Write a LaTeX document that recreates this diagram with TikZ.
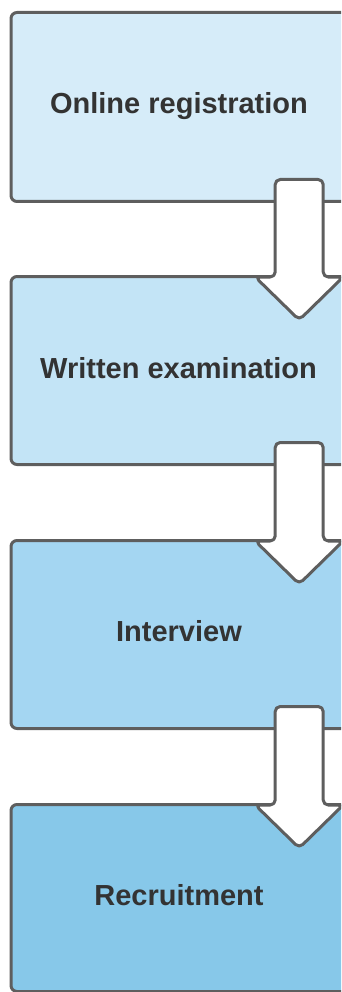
\documentclass[tikz,border=0pt]{standalone}
\usepackage{fontspec}
\setmainfont{Liberation Sans}
\usetikzlibrary{calc}
\definecolor{edgegray}{HTML}{5E5E5E}
\definecolor{txtgray}{HTML}{333333}
\definecolor{fillA}{HTML}{D6ECF9}
\definecolor{fillB}{HTML}{C3E4F6}
\definecolor{fillC}{HTML}{A4D6F2}
\definecolor{fillD}{HTML}{87C8E9}
\begin{document}
\begin{tikzpicture}[x=1pt,y=-1pt,
  stagebox/.style={draw=edgegray, line width=3pt, rounded corners=6pt, minimum width=339pt, inner sep=0pt, anchor=center},
  stagetext/.style={font=\fontsize{29}{34}\selectfont\bfseries, text=txtgray, anchor=base, inner sep=0pt},
  blockarrow/.style={draw=edgegray, fill=white, line width=3pt, rounded corners=5pt, line join=round}]
\useasboundingbox (0,0) rectangle (341,992);
\begin{scope}
\clip (0,0) rectangle (341,992);
\node[stagebox, fill=fillA, minimum height=189pt] (b1) at (180.5,107) {};
\node[stagebox, fill=fillB, minimum height=188pt] (b2) at (180.5,370.5) {};
\node[stagebox, fill=fillC, minimum height=188pt] (b3) at (180.5,634.5) {};
\node[stagebox, fill=fillD, minimum height=187pt] (b4) at (180.5,898) {};
\node[stagetext] (t1) at ($(b1.center)+(-1.5,6.5)$) {Online registration};
\node[stagetext] (t2) at ($(b2.center)+(-2,7.5)$) {Written examination};
\node[stagetext] (t3) at ($(b3.center)+(-1.5,7)$) {Interview};
\node[stagetext] (t4) at ($(b4.center)+(-1.5,7)$) {Recruitment};
\foreach \u/\v in {b1/b2,b2/b3,b3/b4}{
  \coordinate (top) at ($(\u.south)+(118.7,-23.5)$);
  \coordinate (base) at ($(\v.north)+(118.7,2)$);
  \draw[blockarrow] ($(top)+(-24,0)$) -- ($(top)+(24,0)$) -- ($(base)+(24,0)$) -- ($(base)+(44,0)$)
    -- ($(base)+(0,43)$) -- ($(base)+(-44,0)$) -- ($(base)+(-24,0)$) -- cycle;
}
\end{scope}
\end{tikzpicture}
\end{document}
